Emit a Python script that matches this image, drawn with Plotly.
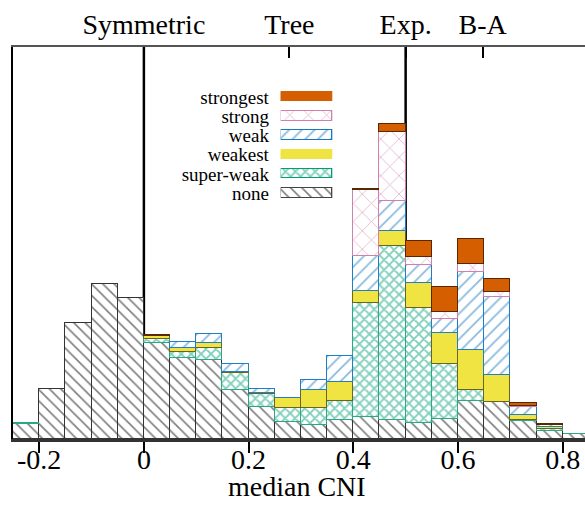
import plotly.graph_objects as go

# ---- data ----
bin_centers = [-0.225, -0.175, -0.125, -0.075, -0.025, 0.025, 0.075, 0.125, 0.175, 0.225, 0.275,
               0.325, 0.375, 0.425, 0.475, 0.525, 0.575, 0.625, 0.675, 0.725, 0.775, 0.825]
none_vals = [15.5, 50, 116.5, 155.3, 140.7, 95.7, 81.3, 79, 48.7, 32, 17.3,
             14, 18.7, 21.7, 19, 15.7, 20, 38, 36.7, 18.3, 8, 4.7]
super_weak_vals = [0.8, 0, 0, 0, 0, 4.3, 5.7, 12.3, 17, 13, 14,
                   16.7, 19.6, 114, 174.3, 115, 55, 11, 0.5, 1, 2, 0.5]
weakest_vals = [0, 0, 0, 0, 0, 2.7, 4.3, 4.4, 1.3, 1.3, 9.4,
                18.3, 18.4, 12, 14.4, 25, 30.7, 40, 27.3, 4.7, 1.7, 0]
weak_vals = [0, 0, 0, 0, 0, 0.5, 5.4, 9, 7.7, 3.7, 0.3,
             10, 26.6, 35.3, 30.3, 18.3, 14, 78.3, 77.7, 8.3, 2.6, 0]
strong_vals = [0, 0, 0, 0, 0, 0, 0, 0, 0, 0, 0,
               0, 0, 66, 68.7, 7.7, 7, 7.4, 4.6, 0.7, 0, 0]
strongest_vals = [0, 0, 0, 0, 0, 0.8, 0, 0, 0, 0, 0,
                  0, 0, 1, 8.3, 16.6, 25, 25, 13.2, 2.7, 0.7, 0]

series_names = ["none", "super-weak", "weakest", "weak", "strong", "strongest"]
series_vals = [none_vals, super_weak_vals, weakest_vals, weak_vals, strong_vals, strongest_vals]

top_tick_vals = [0, 0.278, 0.5, 0.647]
top_tick_text = ["Symmetric", "Tree", "Exp.", "B-A"]
bottom_tick_vals = [-0.2, 0, 0.2, 0.4, 0.6, 0.8]
bottom_tick_text = ["-0.2", "0", "0.2", "0.4", "0.6", "0.8"]
marker_lines = [0.0, 0.5]
x_title = "median CNI"

# ---- styles ----
styles = {
    "none": dict(color="white", line=dict(color="#333333", width=1.5),
                 pattern=dict(shape="\\", fgcolor="black", bgcolor="white", size=8, solidity=0.2)),
    "super-weak": dict(color="white", line=dict(color="#2aa883", width=1),
                       pattern=dict(shape="x", fgcolor="#009E73", bgcolor="white", size=7, solidity=0.45)),
    "weakest": dict(color="#F0E442", line=dict(color="#6b6420", width=1),
                    pattern=dict(shape="")),
    "weak": dict(color="white", line=dict(color="#1f7fc4", width=1),
                 pattern=dict(shape="/", fgcolor="#1577c0", bgcolor="white", size=9, solidity=0.2)),
    "strong": dict(color="white", line=dict(color="#d07fae", width=1),
                   pattern=dict(shape="x", fgcolor="#CC79A7", bgcolor="white", size=13, solidity=0.14)),
    "strongest": dict(color="#D55E00", line=dict(color="#5a2800", width=1.2),
                      pattern=dict(shape="")),
}
legend_line = {"none": "#444444", "super-weak": "#009E73", "weakest": "#F0E442",
               "weak": "#1577c0", "strong": "#d07fae", "strongest": "#D55E00"}

FONT = "Liberation Serif"
fig = go.Figure()

for name, vals in zip(series_names, series_vals):
    yv = [v if v > 0 else None for v in vals]
    fig.add_trace(go.Bar(x=bin_centers, y=yv, width=0.05, name=name,
                         marker=styles[name], showlegend=False,
                         xaxis="x", yaxis="y"))

# dummy trace for top axis
fig.add_trace(go.Scatter(x=[0], y=[0], xaxis="x2", yaxis="y", mode="markers",
                         marker=dict(opacity=0), showlegend=False, hoverinfo="skip"))

# legend built as a small horizontal-bar subplot
legend_order = ["strongest", "strong", "weak", "weakest", "super-weak", "none"]
for i, name in enumerate(legend_order):
    st = dict(styles[name])
    st["line"] = dict(color=legend_line[name], width=1.5)
    fig.add_trace(go.Bar(x=[1], y=[i], base=0, orientation="h", width=0.5,
                         marker=st, showlegend=False, xaxis="x3", yaxis="y3",
                         hoverinfo="skip"))

W, H = 585, 505
L, R, T, B = 13, 0, 47, 66
px_per_unit = 523.5
xr = [-0.25, -0.25 + (W - L - R) / px_per_unit]

for xv in marker_lines:
    fig.add_shape(type="line", x0=xv, x1=xv, y0=0, y1=1, xref="x", yref="y domain",
                  line=dict(color="black", width=2.5), layer="below")

plot_w = W - L - R
plot_h = H - T - B

fig.add_annotation(text=x_title, xref="paper", yref="paper",
                   x=(296.5 - L) / plot_w, y=(H - B - 504) / plot_h,
                   xanchor="center", yanchor="bottom", showarrow=False,
                   font=dict(family=FONT, size=28, color="black"))

fig.update_layout(
    width=W, height=H,
    margin=dict(l=L, r=R, t=T, b=B, autoexpand=False),
    plot_bgcolor="white", paper_bgcolor="white",
    barmode="stack", bargap=0,
    font=dict(family=FONT, color="black", size=27),
    showlegend=False,
    xaxis=dict(range=xr, tickvals=bottom_tick_vals, ticktext=bottom_tick_text,
               ticks="outside", ticklen=11, tickwidth=1.5, tickcolor="black",
               ticklabelstandoff=-17,
               showline=True, linecolor="#333333", linewidth=2.5,
               showgrid=False, zeroline=False, automargin=False,
               tickfont=dict(family=FONT, size=28)),
    xaxis2=dict(range=xr, overlaying="x", side="top", anchor="y",
                tickvals=top_tick_vals, ticktext=top_tick_text,
                ticks="inside", ticklen=11, tickwidth=1.5, tickcolor="black",
                showline=True, linecolor="#555555", linewidth=2,
                showgrid=False, zeroline=False, automargin=False,
                tickfont=dict(family=FONT, size=28)),
    yaxis=dict(range=[0, plot_h], showticklabels=False, ticks="",
               showline=True, linecolor="black", linewidth=2,
               showgrid=False, zeroline=False, automargin=False),
    xaxis3=dict(domain=[(280.7 - L) / plot_w, (332.3 - L) / plot_w], anchor="y3",
                range=[0, 1], visible=False, fixedrange=True),
    yaxis3=dict(domain=[(H - B - 202.9) / plot_h, (H - B - 87.4) / plot_h], anchor="x3",
                range=[5.5, -0.5], tickvals=list(range(6)), ticktext=legend_order,
                ticks="outside", ticklen=7, tickcolor="rgba(0,0,0,0)",
                showline=False, showgrid=False, zeroline=False, automargin=False,
                tickfont=dict(family=FONT, size=19)),
)

fig.write_html("out.html")
